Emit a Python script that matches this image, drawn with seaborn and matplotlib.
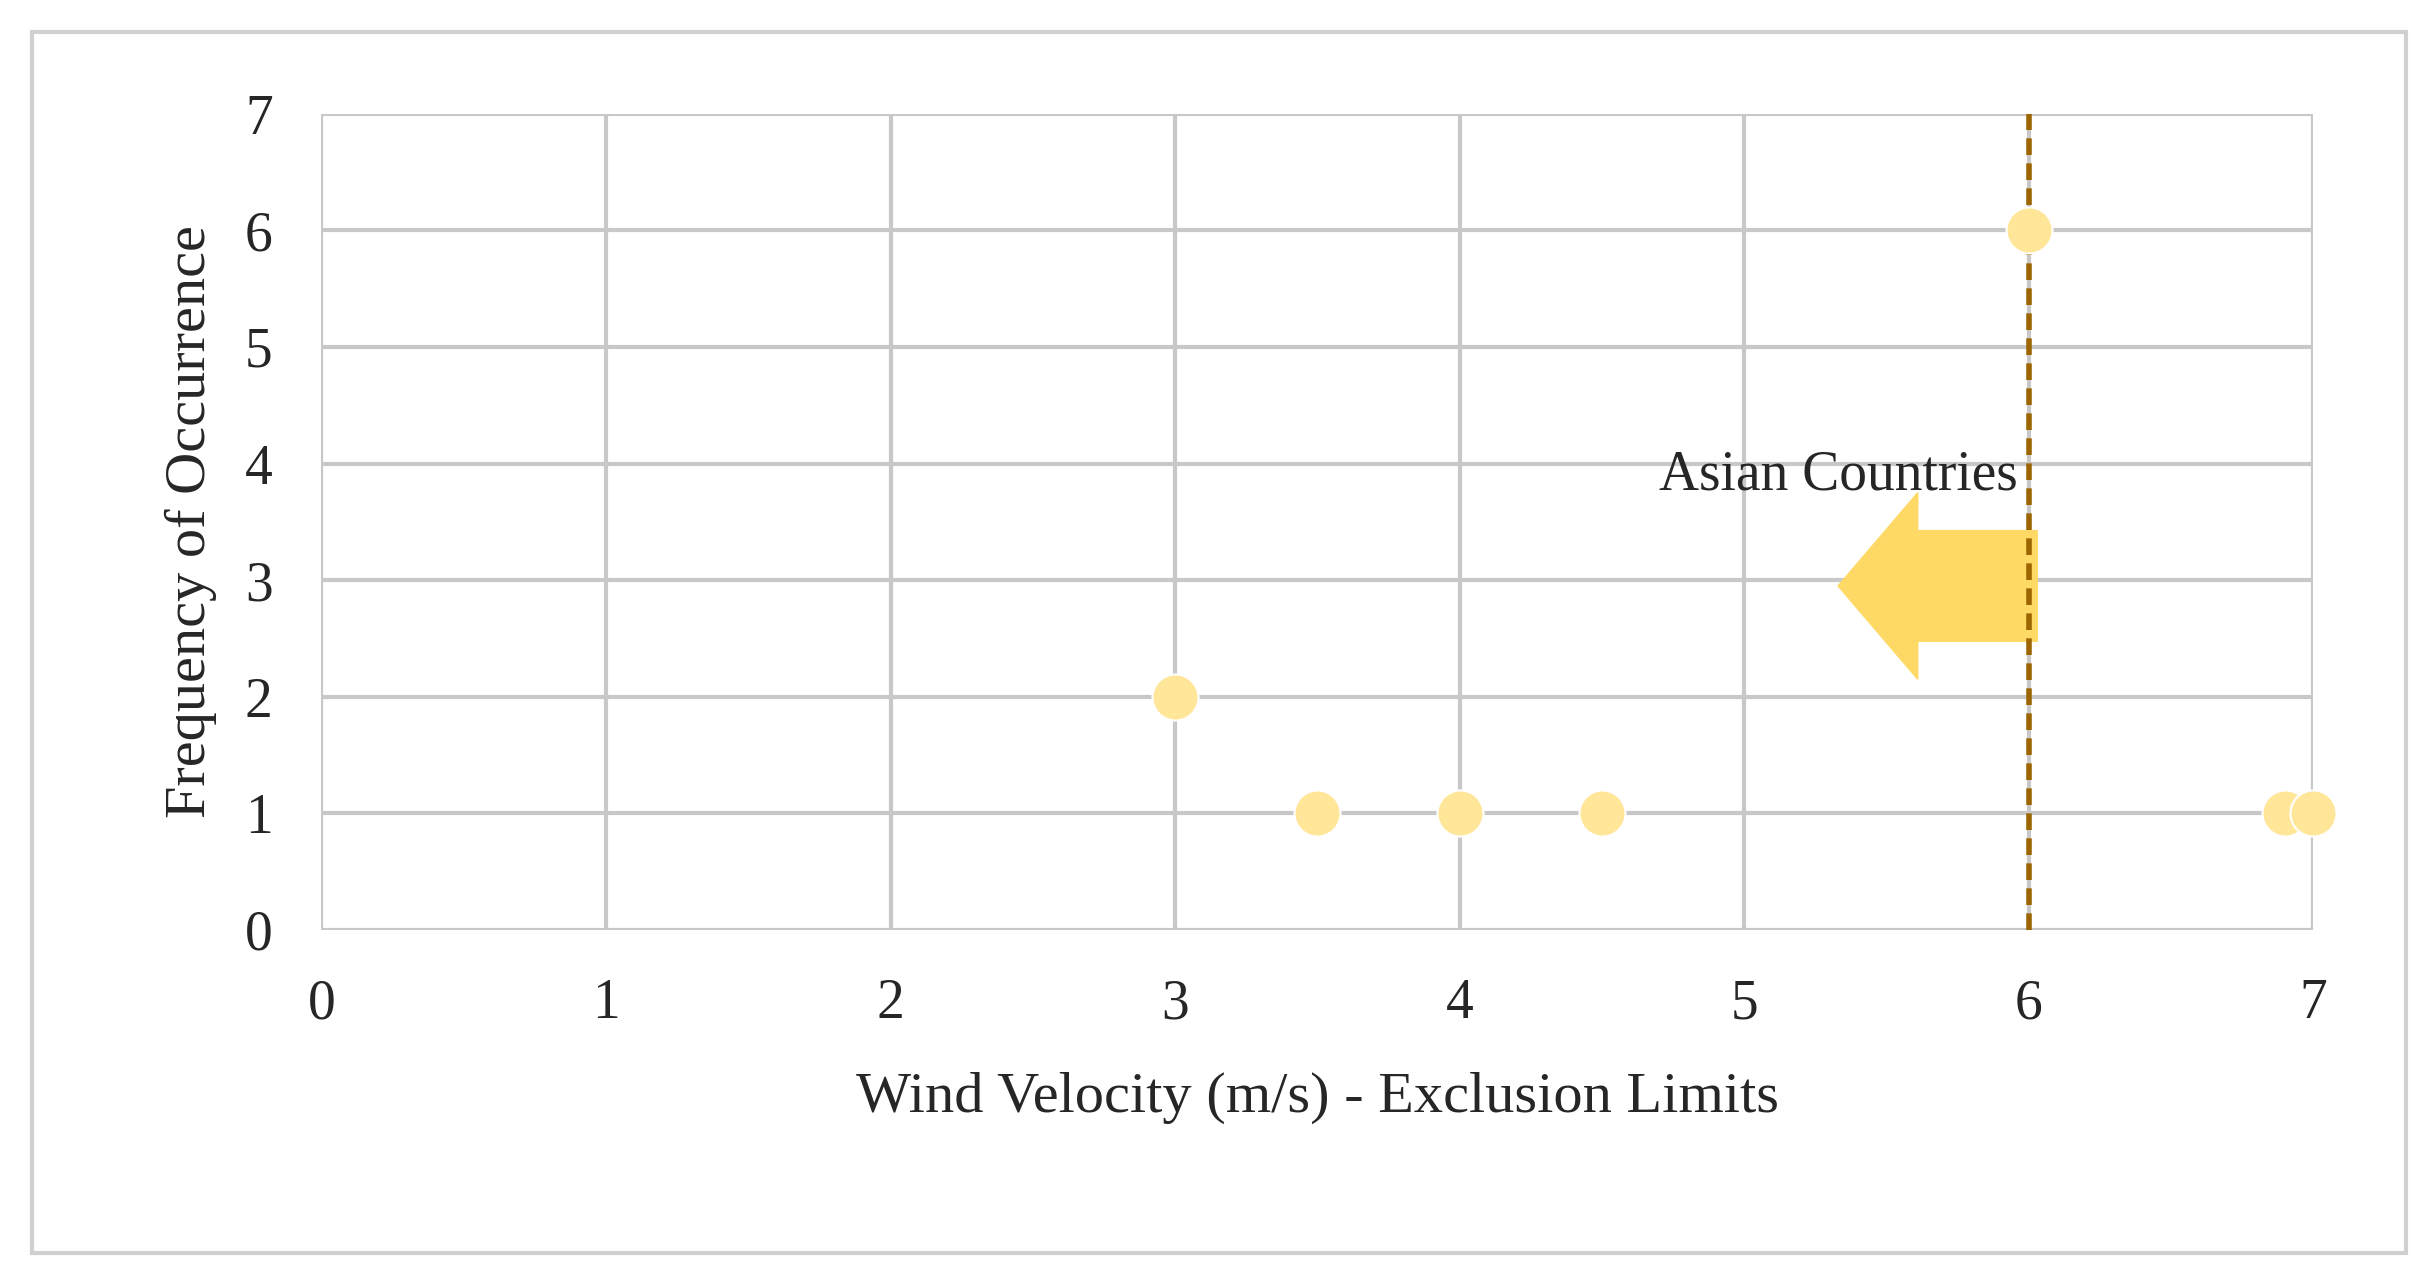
import matplotlib
matplotlib.use("Agg")
import matplotlib.pyplot as plt
import seaborn as sns
import pandas as pd
from matplotlib.patches import FancyArrow, Rectangle

# data
velocity = [3, 3.5, 4, 4.5, 6, 6.9, 7]
frequency = [2, 1, 1, 1, 6, 1, 1]
limit = 6

sns.set_style("whitegrid")
plt.rcParams['font.family'] = ['Liberation Serif', 'DejaVu Serif']

df = pd.DataFrame({'Velocity': velocity, 'Frequency': frequency})

fig = plt.figure(figsize=(24.35, 12.79), dpi=100)
ax = fig.add_axes([0.132, 0.273, 0.818, 0.638])

sns.scatterplot(data=df, x='Velocity', y='Frequency', ax=ax, s=1100,
                color='#FFE699', edgecolor='white', linewidth=1.5, zorder=5, clip_on=False)

ax.axvline(limit, color='#9C6500', linestyle=(0, (3, 1.5)), linewidth=4, zorder=4)

ax.add_patch(FancyArrow(6.03, 2.95, -0.7, 0, width=0.95, head_width=1.6, head_length=0.28,
                        length_includes_head=True, color='#FFD966', zorder=3))
ax.text(5.96, 3.9, 'Asian Countries', ha='right', va='center', fontsize=40)

ax.set_xlim(0, 7)
ax.set_ylim(0, 7)
ax.set_xticks(range(8))
ax.set_yticks(range(8))
ax.grid(True, color='#C8C8C8', linewidth=3)
for s in ax.spines.values():
    s.set_visible(False)
ax.tick_params(axis='both', labelsize=40, length=0)
ax.tick_params(axis='x', pad=35)
ax.tick_params(axis='y', pad=35)
ax.set_xlabel('Wind Velocity (m/s) - Exclusion Limits', fontsize=42, labelpad=30)
ax.set_ylabel('Frequency of Occurrence', fontsize=42, labelpad=20)

fig.patches.append(Rectangle((0.013, 0.02), 0.975, 0.955, transform=fig.transFigure,
                             fill=False, edgecolor='#D0D0D0', linewidth=3))

fig.savefig('out.png', dpi=100)
